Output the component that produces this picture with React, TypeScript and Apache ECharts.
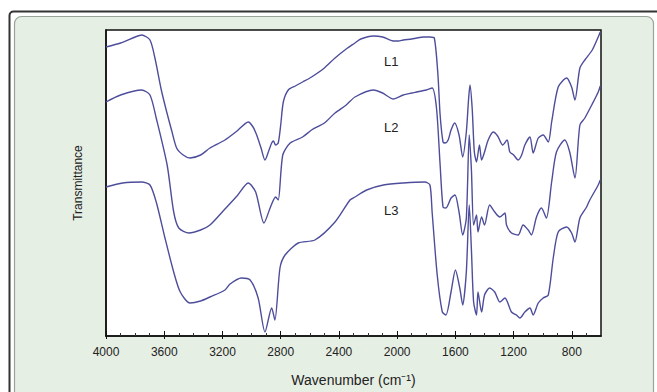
import React, { useEffect, useRef } from "react";
import * as echarts from "echarts";

const majorTicks = [4000, 3600, 3200, 2800, 2400, 2000, 1600, 1200, 800];
const minorTicks = [
  3900, 3800, 3700, 3500, 3400, 3300, 3100, 3000, 2900, 2700, 2600, 2500, 2300, 2200, 2100,
  1900, 1800, 1700, 1500, 1400, 1300, 1100, 1000, 900, 700,
];

const l1Wavenumber = [
  4000, 3900, 3800, 3755, 3698, 3664, 3620, 3583, 3550, 3515, 3470, 3423, 3350, 3286, 3183, 3100,
  3023, 2990, 2965, 2935, 2908, 2880, 2862, 2850, 2835, 2817, 2800, 2782, 2748, 2700, 2650, 2588,
  2500, 2427, 2350, 2290, 2250, 2164, 2100, 2027, 1990, 1958, 1900, 1866, 1820, 1775, 1745, 1720,
  1705, 1685, 1670, 1650, 1630, 1605, 1575, 1550, 1525, 1510, 1500, 1485, 1470, 1455, 1435, 1420,
  1400, 1375, 1340, 1310, 1275, 1245, 1226, 1200, 1169, 1145, 1123, 1088, 1066, 1031, 997, 962,
  939, 894, 836, 802, 779, 745, 711, 660, 619, 605,
];
const l1Transmittance = [
  289, 293, 299, 301, 296, 278, 246, 224, 206, 188, 181, 178, 181, 188, 196, 205,
  214, 209, 201, 188, 176, 186, 193, 195, 191, 193, 211, 234, 246, 250, 254, 259,
  268, 278, 287, 293, 297, 300, 299, 295, 295, 296, 297, 298, 299, 299, 298, 261,
  221, 194, 193, 196, 206, 213, 201, 179, 204, 236, 251, 228, 184, 174, 191, 176,
  184, 196, 204, 200, 191, 196, 184, 181, 176, 181, 191, 199, 183, 198, 201, 194,
  214, 249, 258, 249, 236, 268, 276, 286, 299, 304,
];

const l2Wavenumber = [
  4000, 3900, 3755, 3698, 3655, 3580, 3535, 3500, 3430, 3350, 3286, 3183, 3100, 3023, 2972, 2915,
  2870, 2835, 2817, 2786, 2735, 2650, 2588, 2500, 2427, 2350, 2290, 2164, 2100, 2027, 1958, 1900,
  1866, 1800, 1760, 1730, 1705, 1685, 1665, 1630, 1603, 1575, 1550, 1525, 1505, 1490, 1475, 1455,
  1445, 1420, 1400, 1365, 1330, 1295, 1260, 1249, 1215, 1169, 1135, 1100, 1078, 1043, 1009, 975,
  939, 906, 849, 815, 779, 745, 711, 660, 619, 605,
];
const l2Transmittance = [
  234, 241, 246, 241, 218, 171, 124, 108, 103, 106, 111, 127, 140, 153, 144, 113,
  129, 139, 136, 181, 193, 199, 206, 213, 223, 231, 239, 246, 243, 237, 241, 243,
  244, 246, 248, 228, 171, 129, 128, 138, 141, 124, 101, 118, 201, 166, 111, 121,
  104, 119, 111, 131, 124, 119, 123, 111, 103, 101, 111, 106, 101, 119, 128, 118,
  154, 184, 196, 184, 158, 211, 218, 232, 244, 250,
];

const l3Wavenumber = [
  4000, 3885, 3755, 3698, 3655, 3595, 3535, 3490, 3423, 3350, 3286, 3183, 3148, 3070, 3010, 2955,
  2908, 2862, 2840, 2805, 2770, 2680, 2565, 2427, 2324, 2290, 2210, 2095, 1958, 1810, 1775, 1760,
  1725, 1690, 1665, 1630, 1600, 1570, 1550, 1525, 1505, 1490, 1475, 1455, 1445, 1420, 1400, 1365,
  1330, 1295, 1260, 1215, 1181, 1157, 1123, 1088, 1066, 1031, 997, 962, 928, 894, 836, 802,
  779, 745, 699, 677, 619, 605,
];
const l3Transmittance = [
  149, 153, 154, 151, 134, 98, 64, 44, 33, 35, 39, 46, 52, 58, 56, 38,
  4, 28, 16, 68, 81, 93, 96, 114, 136, 139, 146, 151, 153, 154, 151, 124,
  61, 24, 21, 44, 66, 48, 31, 64, 131, 86, 34, 21, 44, 24, 41, 48,
  44, 34, 38, 24, 21, 18, 24, 28, 21, 33, 38, 41, 78, 104, 109, 103,
  94, 118, 129, 136, 151, 156,
];

const seriesNames = ["L1", "L2", "L3"];
const lineColor = "#4d4d9c";

function zip(xs: number[], ys: number[]) {
  return xs.map((x, i) => [x, ys[i]]);
}

export default function App() {
  const ref = useRef<HTMLDivElement>(null);
  useEffect(() => {
    if (!ref.current) return;
    const chart = echarts.init(ref.current, null, { renderer: "svg" });
    const baseX = {
      type: "value",
      min: 600,
      max: 4000,
      inverse: true,
      gridIndex: 0,
      position: "bottom",
      splitLine: { show: false },
    };
    const lineStyle = { color: lineColor, width: 1.4 };
    const labelFont = "Liberation Sans";
    chart.setOption({
      animation: false,
      backgroundColor: "#ffffff",
      graphic: [
        {
          type: "rect",
          shape: { x: 9.5, y: 11.5, width: 700, height: 420, r: 4 },
          style: { fill: "#ffffff", stroke: "#333333", lineWidth: 2 },
          z: -10,
        },
        {
          type: "rect",
          shape: { x: 14.5, y: 16.5, width: 639, height: 420, r: 7 },
          style: { fill: "#e6efe4", stroke: "#9aa39a", lineWidth: 1.2 },
          z: -9,
        },
        {
          type: "text",
          left: 384,
          top: 55,
          style: { text: seriesNames[0], fontSize: 13, fill: "#222", fontFamily: labelFont },
        },
        {
          type: "text",
          left: 384,
          top: 121,
          style: { text: seriesNames[1], fontSize: 13, fill: "#222", fontFamily: labelFont },
        },
        {
          type: "text",
          left: 384,
          top: 204,
          style: { text: seriesNames[2], fontSize: 13, fill: "#222", fontFamily: labelFont },
        },
      ],
      grid: {
        left: 106,
        top: 30,
        right: 56,
        bottom: 56,
        show: true,
        backgroundColor: "#ffffff",
        borderColor: "#111",
        borderWidth: 1.5,
      },
      xAxis: [
        {
          ...baseX,
          name: "Wavenumber (cm⁻¹)",
          nameLocation: "middle",
          nameGap: 37,
          nameTextStyle: { fontSize: 14, color: "#222", fontFamily: labelFont },
          axisLine: { show: true, lineStyle: { color: "#111", width: 1.5 } },
          axisTick: { show: true, inside: true, length: 5, customValues: majorTicks, lineStyle: { color: "#111" } },
          axisLabel: {
            show: true,
            customValues: majorTicks,
            formatter: (v: number) => String(v),
            margin: 10,
            fontSize: 12,
            color: "#222",
            fontFamily: labelFont,
          },
        },
        {
          ...baseX,
          axisLine: { show: false },
          axisTick: { show: true, inside: true, length: 3, customValues: minorTicks, lineStyle: { color: "#333" } },
          axisLabel: { show: false },
        },
        {
          ...baseX,
          axisLine: { show: false },
          axisTick: { show: true, inside: false, length: 3, customValues: majorTicks, lineStyle: { color: "#111" } },
          axisLabel: { show: false },
        },
      ],
      yAxis: {
        type: "value",
        min: 0,
        max: 306,
        name: "Transmittance",
        nameLocation: "middle",
        nameGap: 22,
        nameTextStyle: { fontSize: 12, color: "#222", fontFamily: labelFont },
        axisLine: { show: true, lineStyle: { color: "#111", width: 1.5 } },
        axisTick: { show: false },
        axisLabel: { show: false },
        splitLine: { show: false },
      },
      series: [
        { name: seriesNames[0], type: "line", data: zip(l1Wavenumber, l1Transmittance) },
        { name: seriesNames[1], type: "line", data: zip(l2Wavenumber, l2Transmittance) },
        { name: seriesNames[2], type: "line", data: zip(l3Wavenumber, l3Transmittance) },
      ].map((s) => ({ ...s, showSymbol: false, smooth: 0.25, lineStyle, xAxisIndex: 0 })),
    });
    return () => chart.dispose();
  }, []);
  return (
    <div
      ref={ref}
      style={{ position: "fixed", left: 0, top: 0, width: 657, height: 392 }}
    />
  );
}
